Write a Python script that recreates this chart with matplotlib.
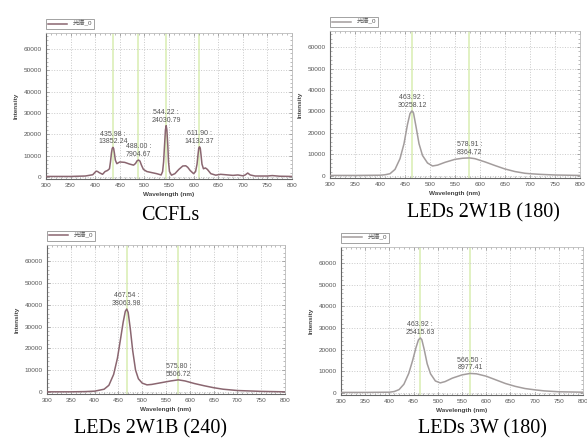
import matplotlib
matplotlib.use("Agg")
import matplotlib.pyplot as plt
from matplotlib.ticker import MultipleLocator

plt.rcParams["font.family"] = ["Liberation Sans", "Noto Sans CJK SC", "DejaVu Sans"]

W, H = 587, 443

# ---- data ----
ccfl_wl = [300, 350, 380, 395, 399, 402, 405, 408, 415, 420, 425, 429, 431, 433,
           434.5, 436, 437.5, 439, 441, 444, 450, 460, 470, 478, 482, 485, 488,
           491, 494, 498, 505, 515, 525, 534, 537, 539, 541, 542.7, 544.2, 545.7,
           547.5, 549, 551, 555, 562, 570, 578, 584, 588, 593, 600, 604, 607,
           609, 610.5, 612, 613.5, 615, 617, 620, 624, 628, 635, 645, 655, 665,
           680, 690, 700, 705, 710, 715, 725, 750, 760, 775, 800]
ccfl_int = [200, 200, 400, 1000, 2000, 2700, 2500, 2000, 1200, 2500, 3000, 3800,
            7000, 11200, 13300, 13852, 13300, 11200, 7800, 6200, 7000, 6800, 6000,
            5500, 6300, 7500, 7905, 7400, 5500, 3500, 2500, 2000, 1500, 900, 2500,
            7000, 15000, 22000, 24031, 22000, 15000, 7000, 2500, 800, 1500, 3500,
            5100, 5200, 4500, 3000, 1500, 2500, 6000, 10500, 13500, 14132, 13500,
            10500, 6000, 3800, 4200, 3500, 1500, 800, 1200, 1000, 700, 900, 500,
            900, 1800, 900, 400, 400, 600, 300, 200]

led180_wl = [300, 350, 400, 410, 420, 430, 440, 448, 455, 460, 463.9, 467, 472,
             478, 485, 495, 505, 515, 530, 550, 565, 578.9, 590, 610, 630, 650,
             670, 690, 700, 720, 750, 800]
led180_int = [200, 200, 300, 500, 1000, 3000, 8000, 15000, 24000, 29000, 30258,
              29300, 23000, 15000, 9500, 6000, 4600, 5000, 6300, 7700, 8200, 8365,
              8000, 6500, 4800, 3200, 2000, 1200, 1000, 700, 400, 200]

led240_wl = [300, 350, 380, 400, 420, 430, 440, 448, 455, 460, 464.5, 467.5, 470.5,
             475, 480, 486, 492, 500, 510, 520, 540, 560, 575.8, 590, 610, 630,
             650, 670, 700, 750, 800]
led240_int = [0, 0, 100, 300, 1200, 3000, 8000, 15500, 25000, 32000, 37000, 38064,
              36500, 29000, 19000, 10000, 6000, 4000, 3200, 3400, 4200, 5000, 5507,
              5000, 3800, 2800, 1900, 1200, 600, 200, 0]

led3w_wl = [300, 350, 400, 410, 420, 430, 440, 448, 455, 460, 463.9, 467, 472,
            478, 485, 495, 505, 515, 530, 550, 566.5, 580, 600, 620, 640, 660,
            680, 700, 720, 750, 800]
led3w_int = [200, 200, 300, 600, 1500, 4000, 9000, 15000, 21000, 24500, 25416,
             24600, 20000, 13500, 8800, 5500, 4600, 5200, 6800, 8300, 8977, 8800,
             7700, 6000, 4300, 3000, 2000, 1400, 900, 500, 300]

ccfl_peak_x = [435.98, 488.00, 544.22, 611.90]
ccfl_peak_y = [13852.24, 7904.67, 24030.79, 14132.37]
led180_peak_x = [463.92, 578.91]
led180_peak_y = [30258.12, 8364.72]
led240_peak_x = [467.54, 575.80]
led240_peak_y = [38063.98, 5506.72]
led3w_peak_x = [463.92, 566.50]
led3w_peak_y = [25415.63, 8977.41]

captions = ["CCFLs", "LEDs 2W1B (180)", "LEDs 2W1B (240)", "LEDs 3W (180)"]
legend_label = "光谱_0"

fig = plt.figure(figsize=(W / 100, H / 100), dpi=100)
fig.patch.set_facecolor("white")


def add_axes_px(left, top, right, bottom):
    return fig.add_axes([left / W, 1 - bottom / H, (right - left) / W, (bottom - top) / H])


def draw_panel(ax, wl, inten, px, py, color):
    for x in px:
        ax.axvline(x, color="#dcefb8", lw=1.2, zorder=1)
    ax.plot(wl, inten, color=color, lw=1.1, zorder=3, label=legend_label,
            solid_joinstyle="round")
    for x, y in zip(px, py):
        ax.annotate(f"{x:.2f} :\n{y:.2f}", xy=(x, y), xytext=(0, 1.5),
                    textcoords="offset points", ha="center", va="bottom",
                    fontsize=5, color="#555555", linespacing=1.15, zorder=4)
    ax.set_xlim(300, 800)
    ax.set_ylim(-1000, 67500)
    ax.xaxis.set_major_locator(MultipleLocator(50))
    ax.xaxis.set_minor_locator(MultipleLocator(10))
    ax.yaxis.set_major_locator(MultipleLocator(10000))
    ax.yaxis.set_minor_locator(MultipleLocator(2000))
    ax.grid(True, which="major", color="#c9c9c9", linestyle=":", lw=0.7, zorder=0)
    ax.tick_params(which="both", direction="in", top=True, right=True,
                   labelsize=4.6, labelcolor="#555555", color="#888888", pad=3)
    ax.tick_params(which="major", length=2.5, width=0.5)
    ax.tick_params(which="minor", length=1.2, width=0.4)
    for side in ("left", "bottom"):
        ax.spines[side].set_color("#666666")
        ax.spines[side].set_linewidth(0.8)
    for side in ("top", "right"):
        ax.spines[side].set_color("#bbbbbb")
        ax.spines[side].set_linewidth(0.6)
    ax.set_xlabel("Wavelength (nm)", fontsize=4.6, fontweight="bold", color="#444444", labelpad=3)
    ax.set_ylabel("Intensity", fontsize=4.6, fontweight="bold", color="#444444", labelpad=4)
    leg = ax.legend(loc="lower left", bbox_to_anchor=(0.0, 1.03), fontsize=4.5,
                    frameon=True, fancybox=False, borderpad=0.3, handlelength=3.0,
                    borderaxespad=0, handletextpad=1.0)
    leg.get_frame().set_edgecolor("#777777")
    leg.get_frame().set_linewidth(0.6)
    for t in leg.get_texts():
        t.set_color("#555555")


ax1 = add_axes_px(46, 33, 292, 179)
draw_panel(ax1, ccfl_wl, ccfl_int, ccfl_peak_x, ccfl_peak_y, "#8a6670")

ax2 = add_axes_px(330, 31, 580, 178)
draw_panel(ax2, led180_wl, led180_int, led180_peak_x, led180_peak_y, "#a39d9d")

ax3 = add_axes_px(47, 245, 285, 394)
draw_panel(ax3, led240_wl, led240_int, led240_peak_x, led240_peak_y, "#8a6670")

ax4 = add_axes_px(341, 247, 583, 395)
draw_panel(ax4, led3w_wl, led3w_int, led3w_peak_x, led3w_peak_y, "#a39d9d")

cap_pos = [(170, 215), (483, 213), (150, 429), (482, 429)]
for text, (cx, cy) in zip(captions, cap_pos):
    fig.text(cx / W, 1 - cy / H, text, ha="center", va="center",
             fontsize=14.5, family="Liberation Serif", color="black")

fig.savefig("out.png", dpi=100)
